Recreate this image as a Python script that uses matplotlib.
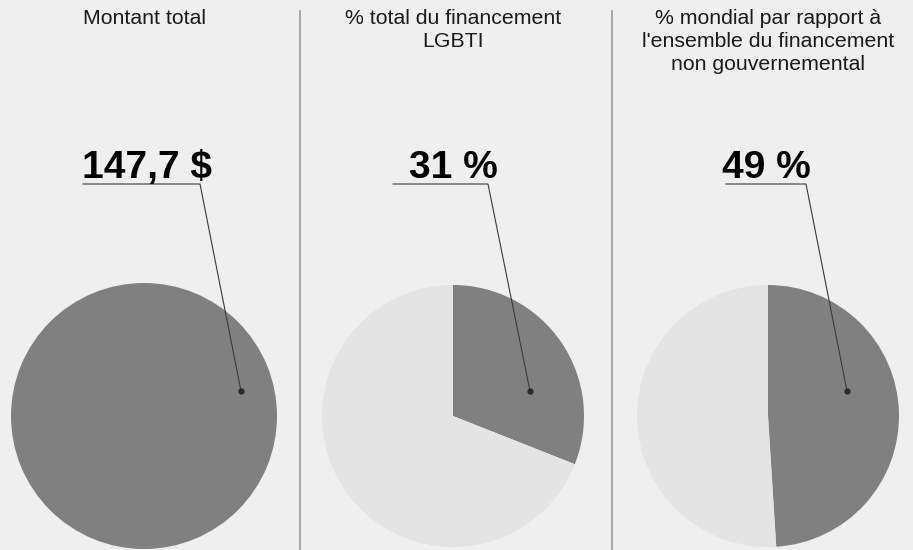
import matplotlib.pyplot as plt
from matplotlib.lines import Line2D

plt.rcParams['font.family'] = ['Liberation Sans', 'DejaVu Sans']

W, H = 913, 550
BG = "#efefef"
DARK = "#808080"
LIGHT = "#e4e4e4"

titles = [
  "Montant total",
  "% total du financement\nLGBTI",
  "% mondial par rapport à\nl'ensemble du financement\nnon gouvernemental",
]
labels = ["147,7 $", "31 %", "49 %"]
total_amount = 147.7
shares = [31, 49]

# panel layout in pixels: pie centre x, pie radius, label x, leader start x, elbow x
centers = [144, 453, 768]
radii = [133, 131, 131]
cy = 416
label_x = [82, 409, 722]
leader_x0 = [83, 393, 726]
elbow_x = [200, 488, 806]
dot_off = [(97, 25), (77, 25), (79, 25)]
separators = [300, 612]


def fx(px):
  return px / W


def fy(py):
  return 1 - py / H


fig = plt.figure(figsize=(W / 100, H / 100), dpi=100, facecolor=BG)

for i in range(3):
  cx, r = centers[i], radii[i]
  ax = fig.add_axes([fx(cx - r), fy(cy + r), 2 * r / W, 2 * r / H])
  ax.set_facecolor(BG)
  if i == 0:
    ax.pie([total_amount], colors=[DARK], startangle=90, radius=1)
  else:
    v = shares[i - 1]
    ax.pie([v, 100 - v], colors=[DARK, LIGHT], startangle=90,
           counterclock=False, radius=1)
  ax.set_xlim(-1, 1)
  ax.set_ylim(-1, 1)
  ax.set_aspect("equal")
  ax.axis("off")

  # title
  fig.text(fx(cx), fy(9), titles[i], ha="center", va="top",
           fontsize=15.3, linespacing=1.25, color="#1a1a1a")

  # value label with leader line
  fig.text(fx(label_x[i]), fy(178), labels[i], ha="left", va="baseline",
           fontsize=28, fontweight="bold", color="#000000")
  dx, dy = dot_off[i]
  xs = [fx(leader_x0[i]), fx(elbow_x[i]), fx(cx + dx)]
  ys = [fy(184), fy(184), fy(cy - dy)]
  fig.add_artist(Line2D(xs, ys, color="#3a3a3a", lw=0.8))
  fig.add_artist(Line2D([xs[-1]], [ys[-1]], marker="o", ms=3.5,
                        color="#2a2a2a", lw=0))

for sx in separators:
  fig.add_artist(Line2D([fx(sx), fx(sx)], [fy(11), 0], color="#9a9a9a", lw=1.2))

fig.savefig("out.png", dpi=100, facecolor=BG)
